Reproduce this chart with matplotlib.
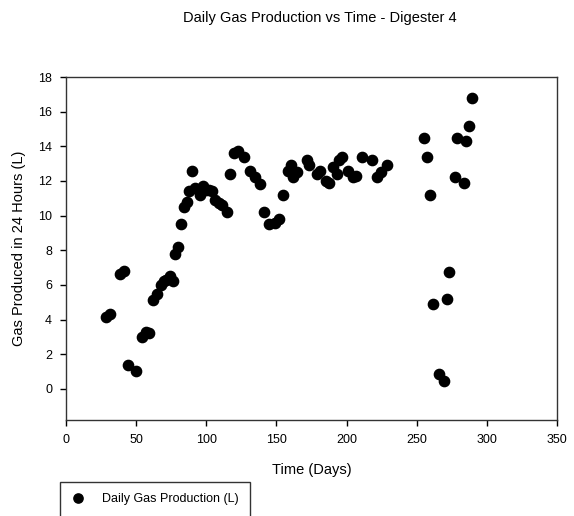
import matplotlib
matplotlib.use("Agg")
import matplotlib.pyplot as plt

plt.rcParams['font.family'] = ['Liberation Sans', 'DejaVu Sans']

days = [28.5, 31.4, 38.5, 41.3, 44, 50, 54, 57, 59, 62, 65, 68, 70, 71.5, 74, 76,
        78, 80, 82, 84, 86, 88, 90, 92, 95, 95.5, 97.6, 99.8, 102, 104, 106, 109,
        111, 115, 117, 120, 122.6, 127, 131, 135, 138, 141, 145, 149, 152, 155,
        158, 160.5, 162, 165, 172, 173, 179, 181, 185, 187.5, 190, 193, 194.6,
        196.7, 201, 204.6, 207, 211, 218, 221.7, 224.5, 229,
        255, 257, 259.4, 261.6, 265.6, 269.6, 271.5, 273, 277, 279, 283.7, 285,
        287, 289.4]
gas = [4.15, 4.33, 6.6, 6.8, 1.4, 1.0, 3.0, 3.3, 3.2, 5.1, 5.5, 6.0, 6.2, 6.3, 6.5, 6.2,
       7.8, 8.2, 9.5, 10.5, 10.8, 11.4, 12.6, 11.6, 11.5, 11.2, 11.7, 11.5, 11.5, 11.4,
       10.9, 10.7, 10.6, 10.2, 12.4, 13.6, 13.7, 13.4, 12.6, 12.2, 11.8, 10.2, 9.5, 9.6,
       9.8, 11.2, 12.6, 12.9, 12.2, 12.5, 13.2, 12.9, 12.4, 12.6, 12.0, 11.9, 12.8,
       12.4, 13.2, 13.4, 12.6, 12.2, 12.3, 13.4, 13.2, 12.2, 12.5, 12.9,
       14.5, 13.4, 11.2, 4.9, 0.87, 0.46, 5.2, 6.75, 12.2, 14.5, 11.9, 14.3,
       15.2, 16.8]

x_ticks = [0, 50, 100, 150, 200, 250, 300, 350]
y_ticks = [0, 2, 4, 6, 8, 10, 12, 14, 16, 18]

W, H = 574, 516
fig = plt.figure(figsize=(W / 100, H / 100), dpi=100)
ax = fig.add_axes([66 / W, 1 - 420 / H, (557 - 66) / W, (420 - 77) / H])

ax.plot(days, gas, linestyle='none', marker='o', markersize=7.4,
        color='black', label='Daily Gas Production (L)')

ax.set_xlim(0, 350)
ax.set_ylim(-1.8, 18)
ax.set_xticks(x_ticks)
ax.set_yticks(y_ticks)
ax.tick_params(direction='out', length=4, width=1, labelsize=9, pad=6,
               colors='black')
for s in ax.spines.values():
    s.set_linewidth(1.0)
    s.set_color('#333333')

ax.set_xlabel('Time (Days)', fontsize=10.5, labelpad=12)
ax.set_ylabel('Gas Produced in 24 Hours (L)', fontsize=10.5, labelpad=9)
fig.text(320 / W, 1 - 18 / H, 'Daily Gas Production vs Time - Digester 4',
         ha='center', va='center', fontsize=10.5)

leg = ax.legend(loc='upper left', bbox_to_anchor=(60 / W, 1 - 482 / H),
                bbox_transform=fig.transFigure, frameon=True, fancybox=False,
                fontsize=9, borderpad=0.9, handlelength=1.0,
                handletextpad=1.5, borderaxespad=0, markerscale=0.9)
leg.get_frame().set_edgecolor('black')
leg.get_frame().set_linewidth(1.0)

fig.savefig('out.png', dpi=100)
